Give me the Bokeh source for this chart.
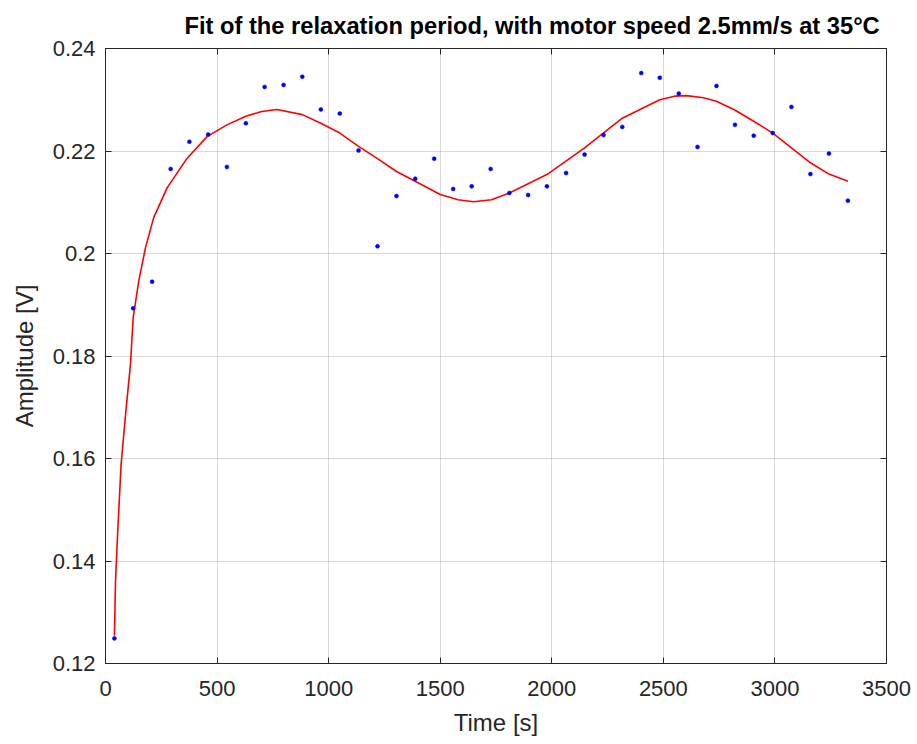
from bokeh.plotting import figure
from bokeh.embed import file_html
from bokeh.resources import INLINE
from bokeh.models import (FixedTicker, LinearAxis, NumeralTickFormatter, Range1d, Title,
                          CustomJSTickFormatter)

# ---- data ----
time_s = [40, 124, 209, 292, 376, 460, 544, 629, 713, 798, 882, 965, 1050, 1134,
          1219, 1304, 1388, 1473, 1558, 1641, 1726, 1810, 1894, 1978, 2064, 2147,
          2232, 2316, 2401, 2484, 2569, 2653, 2738, 2821, 2905, 2990, 3074, 3159,
          3242, 3327]
amplitude_v = [0.1249, 0.1893, 0.1945, 0.2165, 0.2218, 0.2232, 0.2169, 0.2254,
               0.2325, 0.2329, 0.2345, 0.2281, 0.2273, 0.2201, 0.2014, 0.2112,
               0.2146, 0.2185, 0.2126, 0.2131, 0.2165, 0.2118, 0.2114, 0.2131,
               0.2157, 0.2193, 0.2231, 0.2247, 0.2352, 0.2343, 0.2312, 0.2208,
               0.2327, 0.2251, 0.2230, 0.2235, 0.2286, 0.2155, 0.2195, 0.2103]

fit_time_s = [40, 45, 55, 70, 90, 112, 124, 149, 179, 216, 276, 366, 455, 544,
              629, 700, 768, 882, 965, 1050, 1134, 1219, 1304, 1388, 1500, 1580,
              1649, 1730, 1810, 1978, 2147, 2316, 2484, 2550, 2603, 2680, 2738,
              2820, 2905, 2990, 3074, 3159, 3242, 3327]
fit_amplitude_v = [0.1254, 0.1362, 0.1459, 0.1589, 0.1686, 0.1784, 0.1875,
                   0.1946, 0.2011, 0.2070, 0.2128, 0.2186, 0.2228, 0.2251,
                   0.2268, 0.2277, 0.2281, 0.2271, 0.2254, 0.2235, 0.2209,
                   0.2185, 0.2160, 0.2141, 0.2115, 0.2105, 0.2101, 0.2105,
                   0.2118, 0.2154, 0.2206, 0.2264, 0.2300, 0.2307, 0.2308,
                   0.2304, 0.2297, 0.2280, 0.2258, 0.2235, 0.2206, 0.2177,
                   0.2155, 0.2141]

x_ticks = [0, 500, 1000, 1500, 2000, 2500, 3000, 3500]
y_ticks = [0.12, 0.14, 0.16, 0.18, 0.20, 0.22, 0.24]

title_text = "Fit of the relaxation period, with motor speed 2.5mm/s at 35°C"
x_label = "Time [s]"
y_label = "Amplitude [V]"

FONT = "Liberation Sans"
TXT = "#262626"
AX = "#262626"

p = figure(width=917, height=744, output_backend="svg", toolbar_location=None,
           x_range=Range1d(0, 3500), y_range=Range1d(0.12, 0.24),
           min_border_left=105, min_border_right=31, min_border_top=47,
           min_border_bottom=81)
p.title = None

bottom_ax = p.below[0]
left_ax = p.left[0]

# box axes (ticks only) on top and right, added first so they sit next to the frame
blank = CustomJSTickFormatter(code="return ''")
top_ax = LinearAxis(ticker=FixedTicker(ticks=x_ticks), formatter=blank,
                    major_label_standoff=0, major_label_text_font_size="1px",
                    major_tick_in=6, major_tick_out=0,
                    minor_tick_line_color=None, axis_line_color=AX,
                    major_tick_line_color=AX)
right_ax = LinearAxis(ticker=FixedTicker(ticks=y_ticks), formatter=blank,
                      major_label_standoff=0, major_label_text_font_size="1px",
                      major_tick_in=6, major_tick_out=0,
                      minor_tick_line_color=None, axis_line_color=AX,
                      major_tick_line_color=AX)
p.add_layout(top_ax, "above")
p.add_layout(right_ax, "right")

p.add_layout(Title(text=title_text, text_font=FONT, text_font_size="23.7px",
                   text_font_style="bold", text_color="black", align="left",
                   offset=79, standoff=20), "above")

p.outline_line_color = AX
p.outline_line_width = 1
p.background_fill_color = "white"
p.border_fill_color = "white"

for ax in (bottom_ax, left_ax):
    ax.major_tick_in = 6
    ax.major_tick_out = 0
    ax.minor_tick_line_color = None
    ax.axis_line_color = AX
    ax.major_tick_line_color = AX
    ax.major_label_text_font = FONT
    ax.major_label_text_font_size = "22px"
    ax.major_label_text_color = TXT
    ax.axis_label_text_font = FONT
    ax.axis_label_text_font_size = "24px"
    ax.axis_label_text_font_style = "normal"
    ax.axis_label_text_color = TXT

bottom_ax.ticker = FixedTicker(ticks=x_ticks)
left_ax.ticker = FixedTicker(ticks=y_ticks)
left_ax.formatter = NumeralTickFormatter(format="0.[00]")
bottom_ax.axis_label = x_label
left_ax.axis_label = y_label
bottom_ax.major_label_standoff = 17
left_ax.major_label_standoff = 10
bottom_ax.axis_label_standoff = 10
left_ax.axis_label_standoff = 12

p.xgrid.ticker = FixedTicker(ticks=x_ticks)
p.ygrid.ticker = FixedTicker(ticks=y_ticks)
p.grid.grid_line_color = "black"
p.grid.grid_line_alpha = 0.15
p.grid.grid_line_width = 1

p.line(fit_time_s, fit_amplitude_v, line_color="red", line_width=1.6)
p.scatter(time_s, amplitude_v, size=4, fill_color="blue", line_color="blue",
          line_width=0.5)

open("out.html", "w").write(file_html(p, INLINE))
